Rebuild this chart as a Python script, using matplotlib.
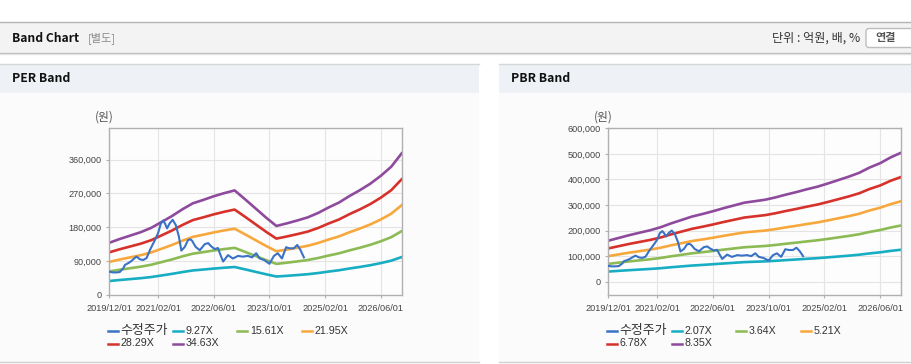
import numpy as np
import matplotlib
matplotlib.use('Agg')
import matplotlib.pyplot as plt
from matplotlib.patches import Rectangle, FancyBboxPatch
from matplotlib.ticker import FuncFormatter

plt.rcParams['font.family'] = ['Liberation Sans', 'Noto Sans CJK KR']

# x axis = months since 2019/12/01
tick_months = [0, 14, 30, 46, 62, 78]
tick_labels = ['2019/12/01', '2021/02/01', '2022/06/01', '2023/10/01', '2025/02/01', '2026/06/01']

# quarterly points for the bands
band_months = [0, 3, 6, 9, 12, 15, 18, 21, 24, 27, 30, 33, 36, 39, 42,
               45, 48, 51, 54, 57, 60, 63, 66, 69, 72, 75, 78, 81, 84]
eps = [4010, 4300, 4560, 4820, 5150, 5600, 6060, 6580, 7040, 7300, 7580, 7820, 8030, 7350, 6650,
       5950, 5300, 5500, 5720, 5960, 6300, 6720, 7100, 7600, 8050, 8550, 9150, 9850, 10880]
bps = [19200, 20500, 21800, 22950, 24100, 25500, 27300, 28900, 30500, 31700, 33000, 34400, 35700, 37000, 37700,
       38400, 39500, 40800, 42000, 43300, 44500, 46000, 47600, 49200, 51000, 53500, 55500, 58200, 60400]
per_mult = [9.27, 15.61, 21.95, 28.29, 34.63]
pbr_mult = [2.07, 3.64, 5.21, 6.78, 8.35]

# adjusted price (수정주가)
price_months = [0, 1, 2, 3, 4, 4.5, 5.5, 6.3, 7, 7.8, 8.8, 9.7, 10.7, 11.7, 12.5, 13.1, 14, 14.8,
                15.5, 16.0, 16.6, 17.3, 18.2, 19.1, 20, 20.7, 21.7, 22.6, 23.3, 23.8, 24.8, 26,
                27.4, 28.4, 29.2, 30.3, 31.2, 32, 32.7, 34.1, 35.5, 37, 38.3, 39.8, 41, 42.2,
                43.2, 44.5, 46, 47.3, 48.4, 49.6, 50.8, 51.8, 53, 54, 54.9, 55.9]
price = [62000, 60000, 60000, 61000, 71000, 80000, 85000, 90000, 96000, 102000, 95000, 93000, 98000,
         120000, 135000, 146000, 164000, 190000, 198000, 190000, 177000, 190000, 200000, 186000,
         155000, 118000, 128000, 146000, 148000, 144000, 128000, 119000, 135000, 138000, 130000,
         122000, 125000, 105000, 89000, 106000, 97000, 104000, 102000, 104000, 100000, 111000,
         97000, 93000, 83000, 104000, 111000, 97000, 127000, 124000, 124000, 133000, 120000, 100000]

band_colors = ['#17adc2', '#8cba54', '#f7a83c', '#d7312b', '#8e4a9c']
price_color = '#3a72c6'

W, H = 912, 364
fig = plt.figure(figsize=(W / 100, H / 100), dpi=100)
fig.patch.set_facecolor('white')

# page decorations in pixel coordinates
bg = fig.add_axes([0, 0, 1, 1])
bg.set_xlim(0, W)
bg.set_ylim(H, 0)
bg.axis('off')
bg.set_zorder(0)

bg.add_patch(Rectangle((0, 22.5), W, 30, fc='#f3f3f3', ec='none'))
bg.plot([0, W], [22.3, 22.3], color='#b4b4b4', lw=1)
bg.plot([0, W], [52.8, 52.8], color='#bcbcbc', lw=1)
bg.plot([0, W], [53.8, 53.8], color='#e2e2e2', lw=1)
bg.text(12, 38, 'Band Chart', fontsize=8.7, fontweight='bold', color='#111111',
        va='center', family=['Noto Sans CJK KR'])
bg.text(88, 38, '[별도]', fontsize=8, color='#8a8a8a', va='center', family=['Noto Sans CJK KR'])
bg.text(860, 38, '단위 : 억원, 배, %', fontsize=8.7, color='#333333', va='center', ha='right',
        family=['Noto Sans CJK KR'])
bg.add_patch(FancyBboxPatch((866, 28.5), 60, 19, boxstyle='round,pad=0,rounding_size=3',
                            fc='white', ec='#bdbdbd', lw=1))
bg.text(886, 38, '연결', fontsize=8, fontweight='bold', color='#555555', va='center', ha='center',
        family=['Noto Sans CJK KR'])

for x0, w, title in [(0, 479, 'PER Band'), (499, 413, 'PBR Band')]:
    bg.add_patch(Rectangle((x0, 64.5), w, 28, fc='#eef2f7', ec='none'))
    bg.plot([x0, x0 + w], [64.2, 64.2], color='#d6d6d6', lw=1)
    bg.add_patch(Rectangle((x0, 92.5), w, 269, fc='#fbfbfb', ec='none'))
    bg.plot([x0, x0 + w], [361.7, 361.7], color='#d0d0d0', lw=1)
    bg.text(x0 + 12, 79, title, fontsize=8.8, fontweight='bold', color='#111111', va='center',
            family=['Noto Sans CJK KR'])


def draw_panel(rect, base, mults, ylim, yticks, x_off):
    l, t, r, b = rect
    ax = fig.add_axes([l / W, 1 - b / H, (r - l) / W, (b - t) / H])
    ax.set_zorder(1)
    ax.set_facecolor('#fdfdfd')
    for m, c in zip(mults, band_colors):
        ax.plot(band_months, np.array(base) * m, color=c, lw=1.9)
    ax.plot(price_months, price, color=price_color, lw=1.5, zorder=3)
    ax.set_xlim(0, 84)
    ax.set_ylim(*ylim)
    ax.set_xticks(tick_months)
    ax.set_xticklabels(tick_labels)
    ax.set_yticks(yticks)
    ax.yaxis.set_major_formatter(FuncFormatter(lambda v, p: f'{v:,.0f}'))
    ax.grid(True, color='#e4e4e4', lw=0.8)
    ax.set_axisbelow(True)
    for s in ax.spines.values():
        s.set_color('#b0b0b0')
        s.set_linewidth(1)
    ax.tick_params(length=2.5, width=0.8, color='#b0b0b0', labelsize=6.6, labelcolor='#444444')
    ax.tick_params(axis='x', pad=4)
    ax.tick_params(axis='y', pad=3)
    bg.text(x_off + 104, 117.5, '(원)', fontsize=8.5, color='#555555', ha='center', va='center',
            family=['Noto Sans CJK KR'])

    # legend
    labels = ['수정주가'] + [f'{m:.2f}X' for m in mults]
    colors = [price_color] + band_colors
    for i, (lab, c) in enumerate(zip(labels, colors)):
        row, col = divmod(i, 4)
        x = x_off + 108 + col * 64.7
        y = 330.5 + row * 13
        bg.plot([x, x + 10], [y, y], color=c, lw=1.8)
        if i == 0:
            bg.text(x + 12.5, y, lab, fontsize=9.3, color='#333333', va='center',
                    family=['Noto Sans CJK KR'])
        else:
            bg.text(x + 12.5, y, lab, fontsize=7.7, color='#333333', va='center')
    return ax


draw_panel((109.3, 128, 401.7, 295), eps, per_mult, (0, 444000),
           [0, 90000, 180000, 270000, 360000], 0)
draw_panel((608.3, 128.3, 901, 295), bps, pbr_mult, (-52000, 600000),
           [0, 100000, 200000, 300000, 400000, 500000, 600000], 499)

fig.savefig('out.png', dpi=100)
